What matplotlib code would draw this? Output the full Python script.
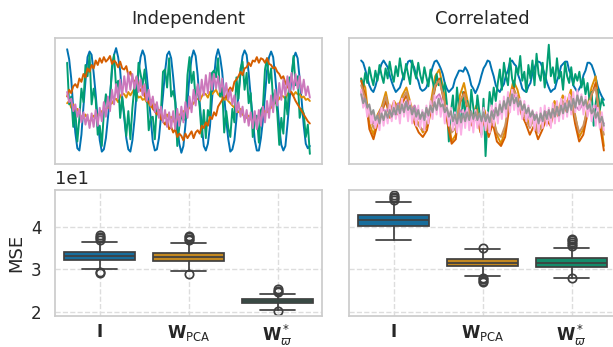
import numpy as np
import matplotlib
matplotlib.use("Agg")
import matplotlib.pyplot as plt
import seaborn as sns

sns.set_theme(style="whitegrid", rc={"grid.linestyle": "--", "axes.edgecolor": ".8"})
plt.rcParams["font.family"] = ["DejaVu Sans"]

pal = sns.color_palette("colorblind")

# ---- top row: example signals (arbitrary units) ----
ind_blue = [96, 87, 70, 43, 22, 8, 6, 20, 45, 68, 89,
            94, 91, 75, 56, 33, 15, 5, 7, 17, 35, 54, 77, 91,
            97, 89, 77, 53, 35, 17, 7, 5, 15, 33, 56, 75, 89,
            95, 90, 74, 54, 34, 14, 6, 7, 17, 36, 55, 76, 91,
            94, 88, 71, 51, 27, 12, 4, 10, 29, 49, 73, 88,
            95, 90, 73, 48, 28, 10, 6, 12, 27, 51, 71, 89,
            96, 89, 76, 55, 33, 16, 5, 7, 15, 34, 56, 75, 90,
            95, 91, 75, 54, 35, 15, 6, 6, 17, 33, 55, 77, 89,
            94, 89, 72, 50, 27, 11, 6, 10, 29, 50, 71, 88,
            93, 88, 70, 50, 28, 12, 8, 10]
ind_orange = [48, 50, 44, 47, 40, 43, 38, 36, 35, 38, 34, 31, 34, 37, 35, 38, 38, 41, 40, 43,
              44, 47, 48, 51, 52, 49, 54, 57, 56, 53, 58, 55, 58, 61, 56, 53, 54, 51, 52, 49,
              48, 45, 44, 47, 40, 42, 38, 35, 35, 38, 34, 36, 33, 30, 35, 38, 38, 41, 40, 42,
              44, 46, 48, 51, 52, 50, 54, 57, 56, 53, 58, 56, 58, 60, 56, 54, 54, 51, 52, 50,
              48, 46, 44, 41, 40, 43, 38, 36, 35, 37, 34, 32, 34, 36, 35, 37, 38, 41, 40, 43,
              44, 47, 48, 50, 52, 55, 54, 52, 56, 58, 58, 55, 58, 56, 56, 53, 54, 51, 52, 50]
ind_green = [84, 47, 54, 27, 42, 14, 35, 61, 49, 82, 72, 91, 47, 61, 51, 20, 28, 10, 40, 56,
             45, 50, 81, 91, 62, 68, 35, 53, 38, 19, 41, 16, 44, 63, 50, 84, 74, 64, 78, 58,
             24, 35, 36, 16, 47, 36, 41, 76, 78, 62, 88, 54, 59, 49, 10, 27, 37, 33, 34, 73,
             89, 66, 76, 51, 63, 44, 18, 42, 17, 42, 35, 75, 77, 71, 88, 54, 62, 22, 41, 26,
             18, 43, 31, 71, 52, 79, 85, 60, 75, 48, 57, 18, 31, 37, 13, 42, 45, 78, 88, 66,
             79, 49, 59, 40, 11, 35, 21, 54, 38, 71, 70, 90, 64, 72, 35, 43, 39, 18, 29, 3]
ind_red = [54, 60, 57, 63, 65, 62, 70, 67, 74, 71, 79, 76, 82, 79, 86, 82, 88, 84, 89, 85,
           87, 90, 83, 86, 84, 80, 85, 79, 78, 81, 73, 76, 70, 66, 71, 62, 59, 63, 54, 52,
           48, 51, 43, 41, 38, 42, 34, 32, 29, 33, 25, 27, 22, 25, 18, 21, 19, 15, 21, 17,
           20, 23, 17, 22, 24, 21, 28, 26, 31, 28, 36, 34, 40, 37, 45, 48, 51, 55, 53, 59,
           62, 59, 67, 69, 72, 76, 73, 79, 80, 84, 81, 86, 85, 89, 84, 88, 87, 84, 88, 83,
           82, 79, 80, 76, 74, 70, 72, 66, 63, 60, 57, 54, 50, 47, 44, 41, 38, 35, 32, 30]
ind_pink = [58, 49, 52, 41, 47, 36, 43, 31, 40, 29, 38, 26, 39, 27, 42, 28, 44, 32, 49, 36,
            54, 41, 60, 47, 65, 52, 69, 55, 72, 58, 75, 60, 74, 61, 72, 58, 69, 55, 65, 50,
            60, 46, 54, 40, 49, 35, 45, 31, 42, 27, 40, 26, 41, 25, 43, 28, 45, 31, 49, 35,
            54, 40, 60, 46, 65, 51, 69, 55, 73, 57, 75, 60, 74, 61, 72, 58, 70, 54, 66, 51,
            60, 47, 55, 40, 49, 36, 45, 31, 42, 28, 40, 26, 41, 25, 42, 28, 45, 31, 50, 35,
            55, 40, 60, 46, 66, 51, 69, 55, 72, 58, 75, 60, 74, 61, 72, 57, 69, 55, 63, 53]

cor_blue = [86, 84, 78, 71, 64, 60, 58, 63, 70, 77, 83, 86, 83, 80, 73, 67, 62, 58, 60, 62,
            68, 74, 79, 85, 86, 83, 80, 72, 68, 61, 59, 60, 62, 68, 73, 80, 85, 86, 83, 79,
            74, 66, 61, 58, 60, 62, 69, 73, 77, 77, 76, 80, 77, 72, 64, 61, 57, 61, 66, 73,
            79, 82, 86, 85, 78, 72, 64, 60, 58, 62, 65, 73, 77, 85, 86, 83, 81, 73, 68, 61,
            59, 58, 63, 66, 75, 79, 85, 85, 84, 79, 74, 67, 62, 58, 60, 61, 68, 73, 81, 83,
            85, 85, 77, 73, 64, 61, 58, 61, 65, 73, 77, 84, 84, 82, 77, 71, 63, 58, 54, 51]
cor_green = [70, 62, 75, 66, 80, 71, 64, 77, 68, 82, 73, 66, 79, 70, 85, 74, 67, 81, 72, 88,
             76, 69, 83, 74, 65, 86, 77, 70, 84, 73, 66, 80, 71, 63, 78, 68, 60, 74, 64, 70,
             58, 66, 48, 14, 40, 55, 30, 62, 42, 25, 58, 36, 50, 28, 60, 44, 33, 55, 40, 20,
             52, 1, 35, 58, 45, 62, 50, 66, 78, 60, 84, 72, 64, 88, 70, 62, 80, 74, 90, 68,
             76, 58, 82, 70, 86, 64, 92, 74, 68, 84, 62, 78, 100, 72, 80, 66, 88, 70, 76, 60,
             84, 72, 66, 80, 64, 74, 68, 76, 62, 70, 56, 66, 50, 58, 28, 48, 60, 42, 52, 46]
cor_orange = [70, 62, 30, 20, 38, 45, 58, 40, 50, 44, 55, 62, 48, 36, 30, 22, 28, 50, 72, 78,
              60, 40, 14, 20, 55, 66, 48, 35, 46, 30, 42, 25, 38, 20, 12, 24, 52, 68, 60, 45,
              38, 28, 36, 22, 30, 40, 35, 50, 42, 55, 48, 60, 38, 18, 25, 45, 62, 72, 40, 10]
cor_red = [68, 55, 25, 16, 30, 40, 50, 35, 44, 38, 48, 55, 42, 30, 22, 18, 24, 42, 62, 70,
           52, 30, 12, 16, 48, 58, 40, 28, 38, 22, 34, 18, 30, 14, 10, 18, 44, 62, 52, 38,
           30, 20, 28, 16, 24, 34, 28, 42, 36, 48, 40, 52, 30, 14, 20, 38, 55, 66, 30, 6]
cor_pink = [58, 46, 40, 30, 36, 44, 40, 46, 38, 48, 42, 50, 40, 46, 34, 40, 36, 46, 52, 56,
            46, 40, 34, 28, 42, 38, 44, 32, 40, 30, 38, 32, 42, 36, 40, 46, 50, 56, 50, 44,
            40, 34, 38, 30, 36, 40, 38, 44, 40, 46, 44, 50, 46, 42, 48, 44, 40, 46, 36, 30]
cor_brown = [64, 52, 36, 26, 34, 42, 54, 38, 48, 40, 52, 58, 44, 34, 28, 24, 30, 46, 64, 68,
             54, 36, 22, 26, 50, 56, 44, 32, 42, 28, 38, 24, 34, 22, 18, 28, 48, 60, 54, 42,
             34, 26, 34, 22, 28, 38, 32, 46, 40, 50, 44, 54, 36, 22, 28, 42, 56, 62, 38, 20]
cor_lightpink = [60, 44, 50, 36, 46, 30, 40, 26, 36, 24, 44, 28, 42, 30, 47, 32, 50, 34, 46, 30,
                 52, 36, 48, 32, 50, 30, 44, 28, 46, 26, 42, 24, 46, 30, 50, 34, 55, 38, 54, 36,
                 50, 30, 46, 28, 44, 24, 40, 22, 38, 20, 42, 26, 44, 24, 40, 22, 42, 26, 38, 18,
                 44, 24, 40, 22, 46, 28, 48, 30, 50, 34, 54, 36, 58, 40, 60, 42, 56, 38, 52, 34,
                 50, 32, 46, 28, 42, 24, 40, 22, 44, 26, 46, 28, 44, 26, 48, 30, 50, 32, 52, 34,
                 54, 36, 56, 38, 58, 40, 60, 42, 56, 38, 54, 36, 50, 32, 46, 28, 44, 26, 40, 24]
cor_gray = [56, 48, 52, 44, 47, 38, 42, 33, 37, 30, 39, 33, 41, 35, 42, 36, 44, 38, 46, 39,
            47, 40, 49, 42, 46, 38, 44, 36, 42, 34, 40, 33, 44, 37, 46, 40, 49, 42, 52, 45,
            47, 40, 44, 36, 41, 32, 38, 30, 39, 31, 39, 32, 40, 33, 41, 34, 40, 33, 39, 32,
            40, 32, 38, 31, 41, 34, 44, 37, 47, 40, 50, 43, 53, 46, 56, 48, 53, 45, 50, 42,
            47, 39, 44, 36, 41, 33, 38, 30, 39, 32, 41, 34, 42, 35, 43, 36, 45, 37, 46, 39,
            48, 40, 50, 42, 52, 44, 55, 47, 54, 46, 51, 43, 47, 39, 43, 35, 40, 31, 36, 28]

# ---- bottom row: MSE box statistics ----
methods = [r"$\mathbf{I}$", r"$\mathbf{W}_{\mathrm{PCA}}$", r"$\mathbf{W}^*_{\varpi}$"]
ind_med = [33.1, 33.0, 22.45]
ind_q1 = [32.2, 32.0, 22.0]
ind_q3 = [34.1, 33.9, 22.9]
ind_lo = [30.0, 29.6, 20.4]
ind_hi = [36.5, 36.2, 24.2]
ind_fliers = [[36.9, 37.3, 37.6, 38.0, 29.3, 29.1],
              [36.8, 37.2, 37.5, 37.9, 28.9],
              [24.6, 25.0, 25.4, 20.2]]
cor_med = [41.6, 31.5, 31.5]
cor_q1 = [40.2, 30.7, 30.6]
cor_q3 = [42.9, 32.4, 32.6]
cor_lo = [36.9, 28.4, 28.0]
cor_hi = [45.9, 34.7, 35.1]
cor_fliers = [[46.3, 46.7, 47.1, 47.5],
              [35.0, 28.0, 27.6, 27.2, 26.9],
              [35.6, 36.0, 36.4, 36.8, 37.2, 27.9]]

fig = plt.figure(figsize=(6.13, 3.47), dpi=100)
W, H = 613, 347


def px_axes(x0, y0, x1, y1):
    return fig.add_axes([x0 / W, 1 - y1 / H, (x1 - x0) / W, (y1 - y0) / H])


ax_ti = px_axes(55, 38, 322, 164)
ax_tc = px_axes(349, 38, 616, 164)
ax_bi = px_axes(55, 189.5, 322, 316)
ax_bc = px_axes(349, 189.5, 616, 316)

ind_series = [ind_blue, ind_orange, ind_green, ind_red, ind_pink]
for k, ys in enumerate(ind_series):
    ax_ti.plot(np.arange(len(ys)), ys, color=pal[k], lw=1.4)

cor_series = [cor_blue, cor_orange, cor_green, cor_red, cor_pink, cor_brown, cor_lightpink, cor_gray]
for k, ys in enumerate(cor_series):
    n = len(ys)
    xs = np.arange(n) * (119 / (n - 1))
    ax_tc.plot(xs, ys, color=pal[k], lw=1.4)

ax_ti.set_title("Independent", fontsize=13, pad=10)
ax_tc.set_title("Correlated", fontsize=13, pad=10)
for ax in (ax_ti, ax_tc):
    ax.set_xticks([])
    ax.set_yticks([])
    ax.grid(False)
    ax.set_ylim(-6, 106)
    for s in ax.spines.values():
        s.set_color("#cccccc")
        s.set_linewidth(1.25)


def draw_box(ax, med, q1, q3, lo, hi, fliers):
    stats = []
    for k in range(len(med)):
        stats.append(dict(med=med[k], q1=q1[k], q3=q3[k], whislo=lo[k], whishi=hi[k],
                          fliers=fliers[k], label=methods[k]))
    line_c = "#3f3f3f"
    bp = ax.bxp(stats, positions=range(len(stats)), widths=0.8, patch_artist=True,
                capwidths=0.4,
                boxprops=dict(edgecolor=line_c, linewidth=1.25),
                medianprops=dict(color=line_c, linewidth=1.25),
                whiskerprops=dict(color=line_c, linewidth=1.25),
                capprops=dict(color=line_c, linewidth=1.25),
                flierprops=dict(marker="o", markerfacecolor="none", markeredgecolor=line_c,
                                markersize=6, markeredgewidth=1.25))
    for k, patch in enumerate(bp["boxes"]):
        patch.set_facecolor(sns.desaturate(pal[k], 0.75))
    ax.set_xlim(-0.5, 2.5)
    ax.set_ylim(19.0, 48.8)
    ax.set_xticks(range(3))
    ax.set_xticklabels(methods, fontsize=12)
    ax.grid(True, linestyle="--", color="#dddddd", linewidth=1)
    ax.tick_params(axis="x", pad=5, length=0)
    for s in ax.spines.values():
        s.set_color("#cccccc")
        s.set_linewidth(1.25)


draw_box(ax_bi, ind_med, ind_q1, ind_q3, ind_lo, ind_hi, ind_fliers)
draw_box(ax_bc, cor_med, cor_q1, cor_q3, cor_lo, cor_hi, cor_fliers)

ax_bi.set_yticks([20, 30, 40])
ax_bi.set_yticklabels(["2", "3", "4"], fontsize=12)
ax_bi.set_ylabel("MSE", fontsize=13)
ax_bi.text(0.0, 1.01, "1e1", transform=ax_bi.transAxes, fontsize=13, ha="left", va="bottom")
ax_bc.set_yticks([20, 30, 40])
ax_bc.set_yticklabels([])
ax_bc.tick_params(axis="y", length=0)

fig.savefig("out.png", dpi=100)
